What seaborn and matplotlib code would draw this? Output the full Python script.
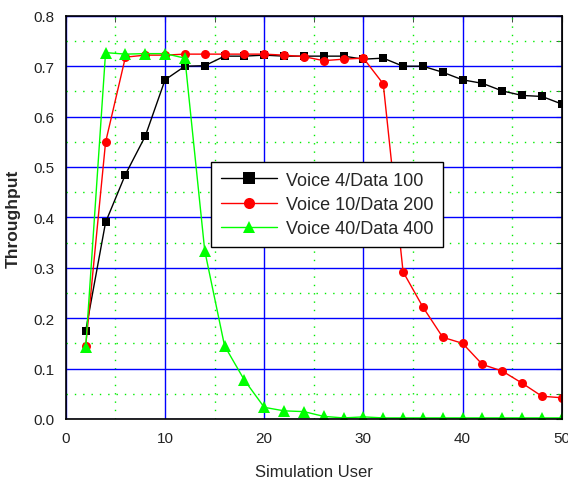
import numpy as np
import pandas as pd
import matplotlib
matplotlib.use("Agg")
import matplotlib.pyplot as plt
import seaborn as sb
from matplotlib.ticker import MultipleLocator, FormatStrFormatter

# data
users = list(range(2, 51, 2))
voice4 = [0.175, 0.390, 0.485, 0.561, 0.673, 0.700, 0.701, 0.720, 0.720, 0.722,
          0.720, 0.720, 0.720, 0.720, 0.714, 0.716, 0.700, 0.700, 0.688, 0.673,
          0.666, 0.651, 0.642, 0.640, 0.625]
voice10 = [0.145, 0.549, 0.718, 0.722, 0.722, 0.724, 0.724, 0.724, 0.724, 0.724,
           0.722, 0.719, 0.711, 0.714, 0.716, 0.665, 0.292, 0.222, 0.162, 0.150,
           0.108, 0.095, 0.071, 0.045, 0.042]
voice40 = [0.142, 0.727, 0.724, 0.725, 0.725, 0.716, 0.334, 0.145, 0.077, 0.023,
           0.016, 0.0145, 0.005, 0.002, 0.004, 0.002, 0.002, 0.002, 0.002, 0.002,
           0.002, 0.002, 0.002, 0.002, 0.002]
labels = ["Voice 4/Data 100", "Voice 10/Data 200", "Voice 40/Data 400"]

df = pd.DataFrame({"user": users * 3,
                   "thr": voice4 + voice10 + voice40,
                   "series": [labels[0]] * 25 + [labels[1]] * 25 + [labels[2]] * 25})

sb.set_style("white")
plt.rcParams["font.family"] = ["Liberation Sans", "DejaVu Sans"]

fig = plt.figure(figsize=(5.68, 4.81), dpi=100)
ax = fig.add_axes([0.116, 0.127, 0.873, 0.838])

# grid
ax.set_axisbelow(True)
ax.xaxis.set_major_locator(MultipleLocator(10))
ax.xaxis.set_minor_locator(MultipleLocator(5))
ax.yaxis.set_major_locator(MultipleLocator(0.1))
ax.yaxis.set_minor_locator(MultipleLocator(0.05))
ax.grid(which="major", color="#0000ff", lw=1.0, ls="-")
ax.grid(which="minor", color="#00ee00", lw=1.0, ls=(0, (1, 5)))

sb.lineplot(data=df, x="user", y="thr", hue="series", style="series",
            palette=["black", "red", "#00ff00"],
            markers=["s", "o", "^"], dashes=False, markersize=6,
            markeredgewidth=0, lw=1, ax=ax)

sizes = {"s": 5.5, "o": 6.5, "^": 8}
for line in ax.lines:
    m = line.get_marker()
    if m in sizes:
        line.set_markersize(sizes[m])

ax.set_xlim(0, 50)
ax.set_ylim(0, 0.8)
ax.yaxis.set_major_formatter(FormatStrFormatter("%.1f"))

for s in ax.spines.values():
    s.set_color("black")
    s.set_linewidth(1.2)

ax.tick_params(which="major", direction="out", length=5, width=1, color="black",
               labelsize=11, labelcolor="#222222")
ax.tick_params(which="minor", direction="out", length=3, width=1, color="black")

# inward ticks on top and right
top = ax.secondary_xaxis("top")
top.xaxis.set_major_locator(MultipleLocator(10))
top.xaxis.set_minor_locator(MultipleLocator(5))
top.tick_params(which="both", direction="in", length=4, labeltop=False)
right = ax.secondary_yaxis("right")
right.yaxis.set_major_locator(MultipleLocator(0.1))
right.yaxis.set_minor_locator(MultipleLocator(0.05))
right.tick_params(which="both", direction="in", length=4, labelright=False)

ax.set_xlabel("Simulation User", fontsize=12, labelpad=14)
ax.set_ylabel("Throughput", fontsize=12.5, fontweight="bold", labelpad=9)

leg = ax.legend(loc="upper left", bbox_to_anchor=(0.292, 0.638), fontsize=13,
                frameon=True, fancybox=False, handlelength=3.1,
                borderpad=0.55, labelspacing=0.4, handletextpad=0.5,
                borderaxespad=0)
leg.get_frame().set_edgecolor("black")
leg.get_frame().set_linewidth(1.0)
leg.get_frame().set_alpha(1)
for h in leg.legend_handles:
    h.set_markersize(8)

fig.savefig("out.png", dpi=100)
